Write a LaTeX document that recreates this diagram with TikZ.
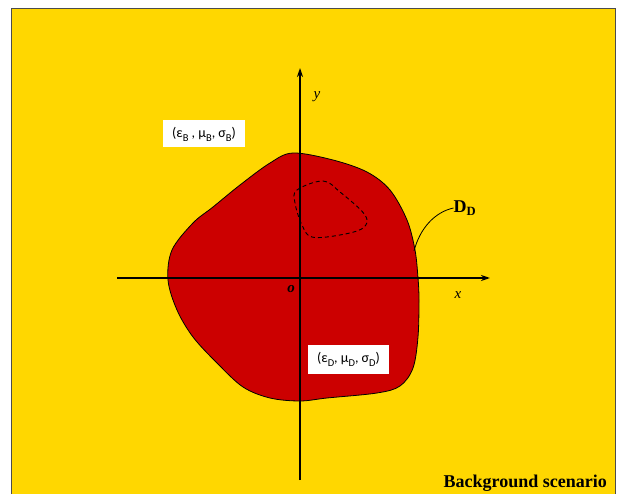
\documentclass[tikz,border=0pt]{standalone}
\usepackage{fontspec}
\setmainfont{Liberation Serif}
\newfontfamily\boxfont{Carlito}
\usetikzlibrary{arrows.meta}
\definecolor{bgyellow}{RGB}{255,215,0}
\definecolor{blobred}{RGB}{204,0,0}
\newcommand{\sbx}[1]{\raisebox{-4pt}{\fontsize{10.5}{12}\selectfont #1}}
\tikzset{
  axis/.style={line width=1.6pt,-{Stealth[length=9pt,width=6pt]}},
  parambox/.style={fill=white,inner xsep=0pt,inner ysep=0pt,minimum height=27pt,font=\boxfont\fontsize{14}{16}\selectfont},
  axlabel/.style={font=\itshape\fontsize{15}{17}\selectfont},
}
\begin{document}
\begin{tikzpicture}[x=1pt,y=-1pt]
\useasboundingbox (0,0) rectangle (619,494);
\fill[white] (0,0) rectangle (619,494);
\draw[fill=bgyellow,draw=black!70,line width=0.8pt] (11,8.5) rectangle (615,500);
% blob
\draw[fill=blobred,line width=0.8pt] plot[smooth cycle,tension=0.55] coordinates {
(293,153) (333,160) (367,172) (390,190) (407,220) (415,250) (418,278) (419,300) (418,337) (413,368) (400,386) (377,393) (327,398) (300,401) (270,398) (243,387) (217,363) (193,337) (177,310) (168,280) (172,250) (193,223) (213,207) (240,185) (270,163)};
% dashed inclusion
\draw[dashed,line width=0.9pt,dash pattern=on 4pt off 3pt] plot[smooth cycle,tension=0.6] coordinates {
(297,190) (323,181) (340,192) (365,215) (363,228) (340,235) (312,237) (302,225) (295,203)};
% axes
\coordinate (xs) at (117,278);
\coordinate (xe) at (490,278);
\coordinate (ys) at (300,480);
\coordinate (ye) at (300,68);
\draw[axis] (xs) -- (xe);
\draw[axis] (ys) -- (ye);
\node[axlabel] (ylab) at (317,97) {y};
\node[axlabel] (xlab) at (458,295) {x};
\node[axlabel] (olab) at (291,289) {\bfseries o};
% labels
\node[parambox,minimum width=82pt] (pB) at (204,134) {(ε\sbx{B} , μ\sbx{B}, σ\sbx{B})};
\node[parambox,minimum width=81pt,minimum height=29pt] (pD) at (348.5,359.5) {(ε\sbx{D}, μ\sbx{D}, σ\sbx{D})};
\node[font=\bfseries\fontsize{18}{20}\selectfont,inner sep=0pt] (DD) at (465,208) {D\textsubscript{D}};
\coordinate (edge) at (414,251);
\draw[line width=0.8pt] (edge) .. controls (420,228) and (435,212) .. (DD.west);
\node[font=\bfseries\fontsize{18}{20}\selectfont,anchor=base east,inner sep=0pt] (bs) at (607,487) {Background scenario};
\end{tikzpicture}
\end{document}
